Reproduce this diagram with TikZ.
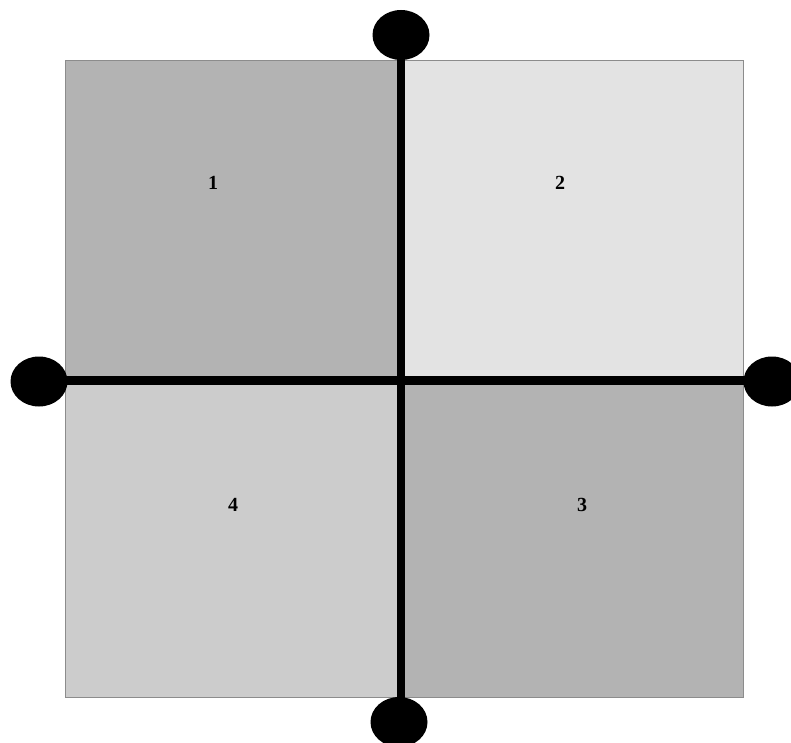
\documentclass[tikz,border=0pt]{standalone}
\usepackage{fontspec}
\setmainfont{Liberation Serif}
\usetikzlibrary{shapes.geometric}
\definecolor{qdark}{HTML}{B3B3B3}
\definecolor{qlight}{HTML}{E3E3E3}
\definecolor{qmid}{HTML}{CCCCCC}
\definecolor{qedge}{HTML}{8C8C8C}
\begin{document}
\begin{tikzpicture}[x=0.75pt,y=-0.75pt,
  quadbox/.style={draw=qedge,line width=0.6pt},
  blob/.style={ellipse,fill=black,draw=none,minimum width=42.75pt,minimum height=37.5pt,inner sep=0pt},
  bar/.style={line width=6.5pt,black},
  lbl/.style={font=\fontsize{15}{17}\selectfont\bfseries}]
\useasboundingbox (0,0) rectangle (791,742);
% quadrants
\path[quadbox,fill=qdark] (65,60) rectangle (401,380.5);
\path[quadbox,fill=qlight] (401,60) rectangle (743.5,380.5);
\path[quadbox,fill=qmid] (65,380.5) rectangle (401,697);
\path[quadbox,fill=qdark] (401,380.5) rectangle (743.5,697);
% labels
\node[lbl] (l1) at (213,183) {1};
\node[lbl] (l2) at (560,183) {2};
\node[lbl] (l3) at (582,505) {3};
\node[lbl] (l4) at (233,505) {4};
% blobs
\node[blob] (top) at (401,35) {};
\node[blob] (bottom) at (399,722) {};
\node[blob] (left) at (39,381.5) {};
\node[blob] (right) at (772,381.5) {};
\coordinate (hl) at (39,380.5);
\coordinate (hr) at (772,380.5);
\coordinate (vb) at (401,722);
% bars
\draw[bar] (top.center) -- (vb);
\draw[bar] (hl) -- (hr);
\end{tikzpicture}
\end{document}
